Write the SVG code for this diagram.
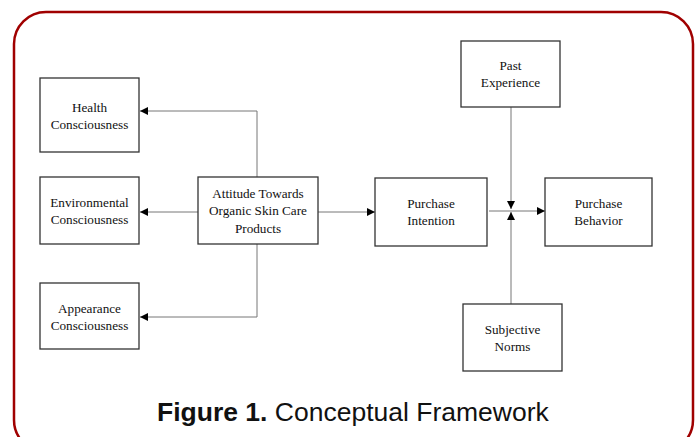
<svg xmlns="http://www.w3.org/2000/svg" width="699" height="437" viewBox="0 0 699 437">
<style>
.box{fill:#fff;stroke:#333;stroke-width:1.3}
.t{font-family:"Liberation Serif","Times New Roman",serif;font-size:13.2px;fill:#111;text-anchor:middle}
.c{fill:none;stroke:#777;stroke-width:1}
.cap{font-family:"Liberation Sans",Arial,sans-serif;font-size:26.5px;fill:#111}
</style>
<defs>
<marker id="ah" viewBox="0 0 10 10" refX="10" refY="5" markerWidth="8" markerHeight="8" markerUnits="userSpaceOnUse" orient="auto">
<path d="M0,0 L10,5 L0,10 z" fill="#000"/>
</marker>
</defs>
<rect x="0" y="0" width="699" height="437" fill="#fff"/>
<rect x="14" y="12" width="679" height="440" rx="32" ry="32" fill="none" stroke="#a00000" stroke-width="2.5"/>
<g id="connectors">
<path class="c" d="M257,177 V111 H140" marker-end="url(#ah)"/>
<path class="c" d="M198,212 H140" marker-end="url(#ah)"/>
<path class="c" d="M257,244 V317 H140" marker-end="url(#ah)"/>
<path class="c" d="M318,212 H375" marker-end="url(#ah)"/>
<path class="c" d="M489,211 H545" marker-end="url(#ah)"/>
<path class="c" d="M511,107 V209" marker-end="url(#ah)"/>
<path class="c" d="M511,304 V212" marker-end="url(#ah)"/>
</g>
<g id="health">
<rect class="box" x="40" y="78" width="99" height="74"/>
<text class="t" x="89.5" y="112">Health</text>
<text class="t" x="89.5" y="129">Consciousness</text>
</g>
<g id="environmental">
<rect class="box" x="40" y="177" width="99" height="67"/>
<text class="t" x="89.5" y="207">Environmental</text>
<text class="t" x="89.5" y="224">Consciousness</text>
</g>
<g id="appearance">
<rect class="box" x="40" y="283" width="99" height="66"/>
<text class="t" x="89.5" y="313">Appearance</text>
<text class="t" x="89.5" y="330">Consciousness</text>
</g>
<g id="attitude">
<rect class="box" x="198" y="177" width="120" height="67"/>
<text class="t" x="258" y="198">Attitude Towards</text>
<text class="t" x="258" y="215">Organic Skin Care</text>
<text class="t" x="258" y="233">Products</text>
</g>
<g id="intention">
<rect class="box" x="375" y="178" width="112" height="68"/>
<text class="t" x="431" y="208">Purchase</text>
<text class="t" x="431" y="225">Intention</text>
</g>
<g id="behavior">
<rect class="box" x="545" y="178" width="107" height="68"/>
<text class="t" x="598.5" y="208">Purchase</text>
<text class="t" x="598.5" y="225">Behavior</text>
</g>
<g id="past">
<rect class="box" x="461" y="41" width="99" height="66"/>
<text class="t" x="510.5" y="70">Past</text>
<text class="t" x="510.5" y="87">Experience</text>
</g>
<g id="norms">
<rect class="box" x="463" y="304" width="99" height="67"/>
<text class="t" x="512.5" y="334">Subjective</text>
<text class="t" x="512.5" y="351">Norms</text>
</g>
<text class="cap" x="157" y="421"><tspan font-weight="bold">Figure 1.</tspan> Conceptual Framework</text>
</svg>
